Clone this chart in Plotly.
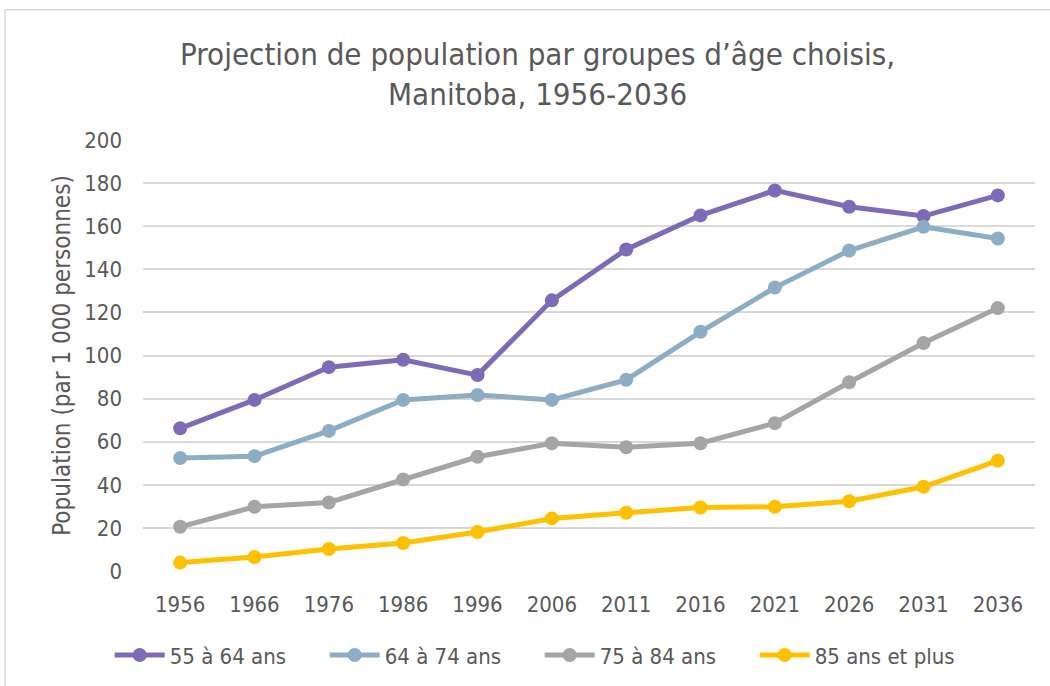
import plotly.graph_objects as go

years = ["1956", "1966", "1976", "1986", "1996", "2006", "2011", "2016", "2021", "2026", "2031", "2036"]
s55_64 = [66.2, 79.4, 94.6, 98.0, 90.9, 125.6, 149.2, 165.0, 176.6, 169.0, 164.7, 174.3]
s64_74 = [52.4, 53.3, 65.0, 79.4, 81.7, 79.4, 88.7, 111.0, 131.5, 148.7, 159.7, 154.3]
s75_84 = [20.5, 29.8, 31.8, 42.5, 53.0, 59.3, 57.4, 59.3, 68.6, 87.6, 105.8, 122.0]
s85p = [3.9, 6.5, 10.2, 13.0, 18.1, 24.4, 27.0, 29.5, 29.8, 32.4, 39.1, 51.2]

names = ["55 à 64 ans", "64 à 74 ans", "75 à 84 ans", "85 ans et plus"]
colors = ["#7E6BB7", "#8CADC4", "#A5A5A5", "#FFC000"]
series = [s55_64, s64_74, s75_84, s85p]

FONT = "DejaVu Sans Condensed, sans-serif"
TXT = "#595959"

fig = go.Figure()
for n, c, s in zip(names, colors, series):
    fig.add_trace(go.Scatter(
        x=years, y=s, name=n, mode="lines+markers",
        line=dict(color=c, width=5),
        marker=dict(color=c, size=14),
    ))

fig.update_layout(
    width=1050, height=686,
    paper_bgcolor="white", plot_bgcolor="white",
    margin=dict(l=143, r=15, t=140, b=115),
    font=dict(family=FONT, color=TXT, size=22),
    title=dict(
        text="Projection de population par groupes d’âge choisis,<br>Manitoba, 1956-2036",
        x=0.512, xanchor="center", xref="container",
        y=0.905, yanchor="middle", yref="container",
        font=dict(family=FONT, size=31, color=TXT),
    ),
    xaxis=dict(
        type="category", range=[-0.5, 11.5],
        showgrid=False, zeroline=False, showline=False,
        tickfont=dict(size=22, color=TXT),
        ticklabelstandoff=18,
        automargin=False,
    ),
    yaxis=dict(
        range=[0, 200], dtick=20,
        showgrid=True, gridcolor="#D9D9D9", gridwidth=1.5,
        zeroline=False, showline=False,
        tickfont=dict(size=22, color=TXT),
        ticklabelstandoff=20,
        automargin=False,
        title=dict(text="Population (par 1 000 personnes)", font=dict(size=24, color=TXT), standoff=6),
    ),
    legend=dict(
        orientation="h", xref="container", yref="container",
        x=0.514, xanchor="center", y=0.045, yanchor="middle",
        font=dict(size=22, color=TXT),
        itemwidth=50, entrywidth=150, traceorder="normal",
    ),
    showlegend=True,
)

# outer chart border (light grey) like the source
fig.add_shape(type="rect", xref="paper", yref="paper",
              x0=(5 - 143) / 892, x1=(1070 - 143) / 892,
              y0=-(700 - 571) / 430, y1=1 + (140 - 10) / 430,
              line=dict(color="#D9D9D9", width=1.5), fillcolor="rgba(0,0,0,0)", layer="below")

fig.write_html("out.html", config={"displayModeBar": False},
               post_script="document.body.style.margin='0';document.body.style.padding='0';")
